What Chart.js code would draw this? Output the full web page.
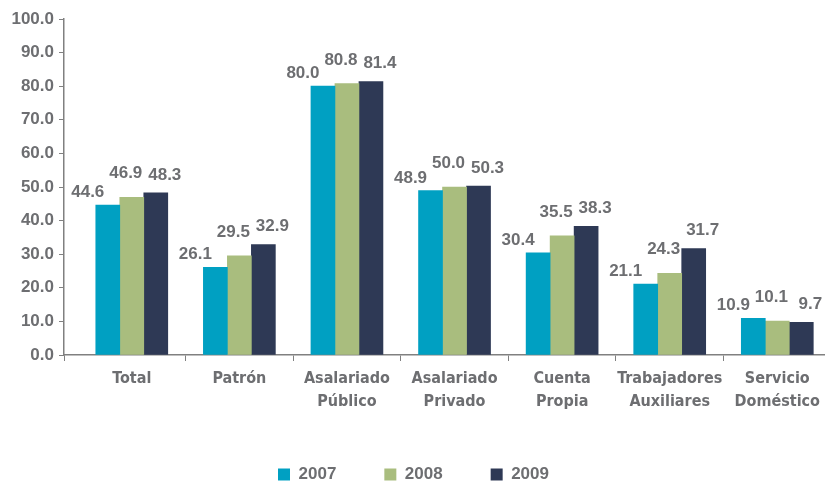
<!DOCTYPE html>
<html>
<head>
<meta charset="utf-8">
<script src="https://cdn.jsdelivr.net/npm/chart.js@4.4.1/dist/chart.umd.min.js"></script>
<style>
    html, body { margin: 0; padding: 0; background: #ffffff; }
    #wrap { position: relative; width: 827px; height: 482px; }
</style>
</head>
<body>
<div id="wrap"><canvas id="chart"></canvas></div>
<script>
// Data
const categories = [
    ['Total'],
    ['Patrón'],
    ['Asalariado', 'Público'],
    ['Asalariado', 'Privado'],
    ['Cuenta', 'Propia'],
    ['Trabajadores', 'Auxiliares'],
    ['Servicio', 'Doméstico']
];
const years = ['2007', '2008', '2009'];
const values2007 = [44.6, 26.1, 80.0, 48.9, 30.4, 21.1, 10.9];
const values2008 = [46.9, 29.5, 80.8, 50.0, 35.5, 24.3, 10.1];
const values2009 = [48.3, 32.9, 81.4, 50.3, 38.3, 31.7, 9.7];
const yTicks = [0, 10, 20, 30, 40, 50, 60, 70, 80, 90, 100];

const GRAY = '#6d6e71';
const AXIS = '#808080';
const colors = ['#00a0c2', '#a9bd7e', '#2e3955'];

// label nudges, the source labels sit a bit off their bars
const labelDx = [-20, -6, 9];
const labelGap = [8, 19, 13];

const toPoints = arr => arr.map((v, i) => ({ x: i, y: v }));

const barLabels = {
    id: 'barLabels',
    afterDatasetsDraw(chart) {
        const c = chart.ctx;
        c.save();
        c.font = 'bold 17px "Liberation Sans", Arial, sans-serif';
        c.fillStyle = GRAY;
        c.textAlign = 'center';
        c.textBaseline = 'alphabetic';
        chart.data.datasets.forEach((ds, di) => {
            chart.getDatasetMeta(di).data.forEach((bar, i) => {
                c.fillText(ds.data[i].y.toFixed(1), bar.x + labelDx[di], bar.y - labelGap[di]);
            });
        });
        c.restore();
    }
};

const ctx = document.getElementById('chart').getContext('2d');
new Chart(ctx, {
    type: 'bar',
    data: {
        datasets: [values2007, values2008, values2009].map((vals, i) => ({
            label: years[i],
            data: toPoints(vals),
            backgroundColor: colors[i],
            borderWidth: 0,
            barThickness: 24
        }))
    },
    options: {
        responsive: true,
        maintainAspectRatio: false,
        animation: false,
        layout: { padding: { top: 19, left: 0, right: 0, bottom: 0 } },
        scales: {
            x: {
                type: 'linear',
                offset: false,
                min: -0.63,
                max: 6.44,
                afterBuildTicks: scale => {
                    const t = [-0.63];
                    for (let i = 0; i < categories.length; i++) {
                        t.push(i);
                        if (i < categories.length - 1) t.push(i + 0.5);
                    }
                    scale.ticks = t.map(v => ({ value: v }));
                },
                afterFit: scale => { scale.height = 63; },
                grid: {
                    offset: false,
                    drawOnChartArea: false,
                    tickLength: 6,
                    color: c => (c.tick && Number.isInteger(c.tick.value)) ? 'rgba(0,0,0,0)' : AXIS
                },
                border: { color: AXIS, width: 1.5 },
                ticks: {
                    autoSkip: false,
                    maxRotation: 0,
                    minRotation: 0,
                    padding: 7,
                    color: GRAY,
                    font: { family: '"DejaVu Sans Condensed", sans-serif', size: 16, weight: 'bold', lineHeight: 1.4 },
                    callback: v => Number.isInteger(v) ? categories[v] : ''
                }
            },
            y: {
                min: 0,
                max: 100,
                afterBuildTicks: scale => { scale.ticks = yTicks.map(v => ({ value: v })); },
                afterFit: scale => { scale.width = 64; },
                grid: { drawOnChartArea: false, tickLength: 5, color: AXIS },
                border: { color: AXIS, width: 1.5 },
                ticks: {
                    padding: 5,
                    color: GRAY,
                    font: { family: '"Liberation Sans", Arial, sans-serif', size: 17, weight: 'bold' },
                    callback: v => v.toFixed(1)
                }
            }
        },
        plugins: {
            legend: {
                position: 'bottom',
                maxHeight: 64,
                labels: {
                    boxWidth: 12,
                    boxHeight: 12,
                    padding: 48,
                    color: GRAY,
                    font: { family: '"Liberation Sans", Arial, sans-serif', size: 17, weight: 'bold' }
                }
            },
            tooltip: { enabled: false }
        }
    },
    plugins: [barLabels]
});
</script>
</body>
</html>
